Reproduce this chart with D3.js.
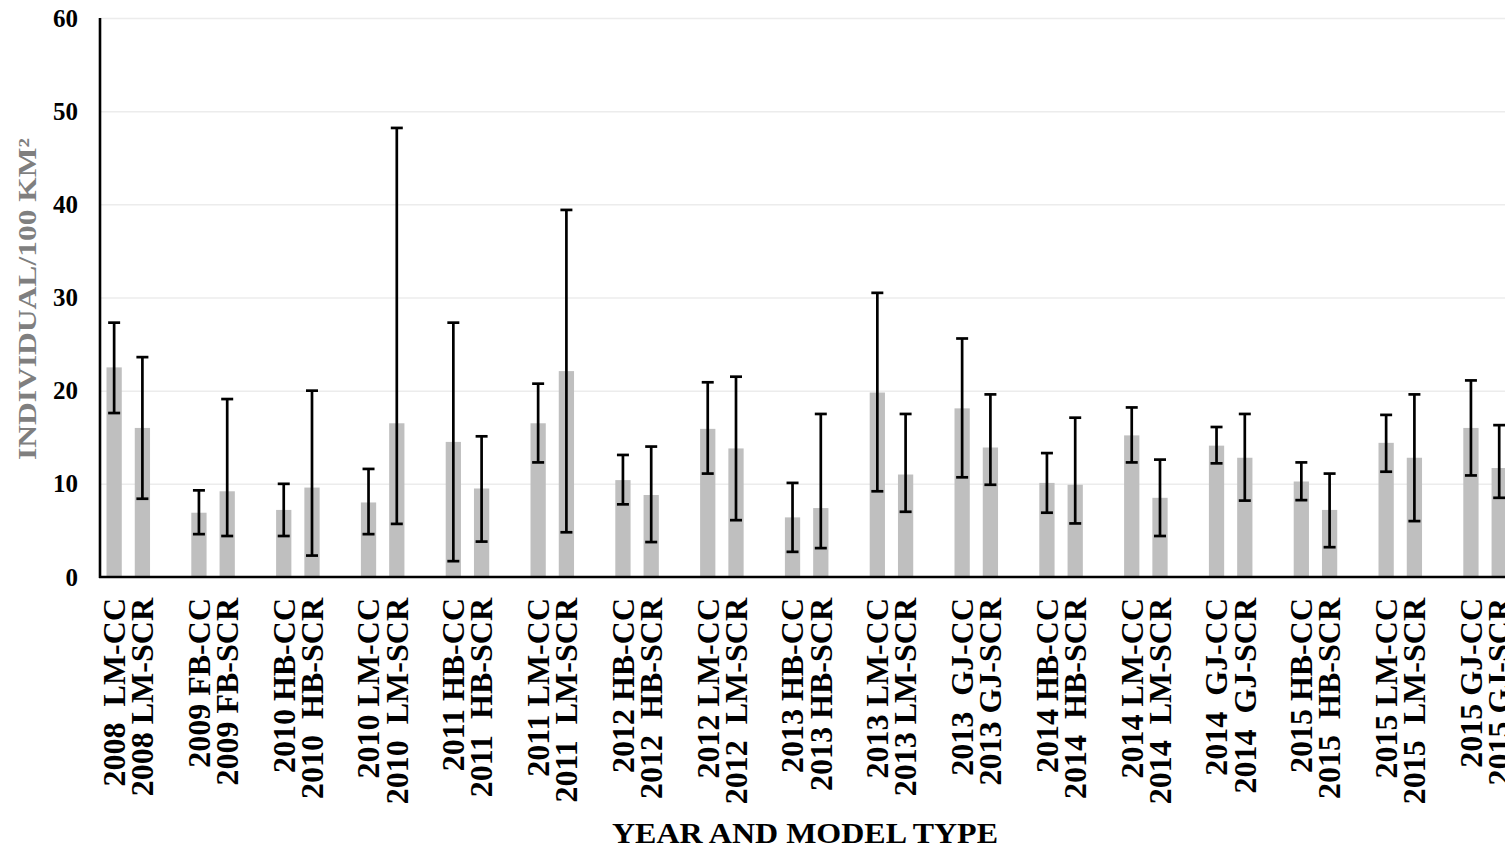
<!DOCTYPE html>
<html>
<head>
<meta charset="utf-8">
<script src="https://cdn.jsdelivr.net/npm/d3@7"></script>
<style>
    body { margin: 0; background: #fff; }
    text { font-family: "Times New Roman", "Liberation Serif", serif; font-weight: bold; }
    .x-label { white-space: pre; }
</style>
</head>
<body>
<svg width="1505" height="852"></svg>
<script>
const width = 1505;
const height = 852;

// groups along the x axis (year + area)
const groups = ['2008 LM', '2009 FB', '2010 HB', '2010 LM', '2011 HB', '2011 LM', '2012 HB', '2012 LM',
    '2013 HB', '2013 LM', '2013 GJ', '2014 HB', '2014 LM', '2014 GJ', '2015 HB', '2015 LM', '2015 GJ'];

const ccLabels = ['2008  LM-CC', '2009 FB-CC', '2010 HB-CC', '2010 LM-CC', '2011 HB-CC', '2011 LM-CC',
    '2012 HB-CC', '2012 LM-CC', '2013 HB-CC', '2013 LM-CC', '2013  GJ-CC', '2014 HB-CC', '2014 LM-CC',
    '2014  GJ-CC', '2015 HB-CC', '2015 LM-CC', '2015 GJ-CC'];
const scrLabels = ['2008 LM-SCR', '2009 FB-SCR', '2010  HB-SCR', '2010  LM-SCR', '2011  HB-SCR', '2011  LM-SCR',
    '2012  HB-SCR', '2012  LM-SCR', '2013 HB-SCR', '2013 LM-SCR', '2013 GJ-SCR', '2014  HB-SCR', '2014  LM-SCR',
    '2014  GJ-SCR', '2015  HB-SCR', '2015  LM-SCR', '2015 GJ-SCR'];

const ccMean = [22.5, 6.9, 7.2, 8.0, 14.5, 16.5, 10.4, 15.9, 6.4, 19.8, 18.1, 10.1, 15.2, 14.1, 10.25, 14.4, 16.0];
const ccLow  = [17.6, 4.6, 4.4, 4.6, 1.7, 12.3, 7.8, 11.1, 2.7, 9.2, 10.7, 6.9, 12.3, 12.2, 8.25, 11.3, 10.9];
const ccHigh = [27.3, 9.3, 10.0, 11.6, 27.3, 20.75, 13.1, 20.9, 10.1, 30.5, 25.6, 13.3, 18.2, 16.1, 12.3, 17.4, 21.1];

const scrMean = [16.0, 9.2, 9.6, 16.5, 9.5, 22.1, 8.8, 13.8, 7.4, 11.0, 13.9, 9.9, 8.5, 12.8, 7.2, 12.8, 11.7];
const scrLow  = [8.4, 4.4, 2.3, 5.7, 3.8, 4.8, 3.75, 6.1, 3.1, 7.0, 9.9, 5.75, 4.4, 8.2, 3.2, 6.0, 8.5];
const scrHigh = [23.6, 19.1, 20.0, 48.2, 15.1, 39.4, 14.0, 21.5, 17.5, 17.5, 19.6, 17.1, 12.6, 17.5, 11.1, 19.6, 16.3];

const yTicks = [0, 10, 20, 30, 40, 50, 60];

const svg = d3.select('svg');

const render = () => {
    const margin = { top: 18, left: 100, bottom: 275 };
    const step = 84.8;

    // flatten into one row per bar
    const data = [];
    groups.forEach((g, i) => {
        data.push({ group: g, model: 'CC', label: ccLabels[i], mean: ccMean[i], low: ccLow[i], high: ccHigh[i] });
        data.push({ group: g, model: 'SCR', label: scrLabels[i], mean: scrMean[i], low: scrLow[i], high: scrHigh[i] });
    });

    const yScale = d3.scaleLinear()
        .domain([0, 60])
        .range([height - margin.bottom, margin.top]);

    // the chart runs past the right edge of the page, as in the original
    const xScale = d3.scaleBand()
        .domain(groups)
        .range([margin.left, margin.left + step * groups.length]);

    // third slot stays empty
    const xInner = d3.scaleBand()
        .domain(['CC', 'SCR', 'none'])
        .range([0, xScale.bandwidth()])
        .paddingInner(0.46)
        .paddingOuter(0.23);

    const barX = d => xScale(d.group) + xInner(d.model);
    const barMid = d => barX(d) + xInner.bandwidth() / 2;

    // gridlines
    const yAxis = d3.axisLeft(yScale)
        .tickValues(yTicks)
        .tickSize(-(width - margin.left))
        .tickPadding(22)
        .tickFormat(d3.format('d'));

    const yAxisG = svg.append('g')
        .attr('transform', 'translate(' + margin.left + ', 0)')
        .call(yAxis);
    yAxisG.select('.domain').remove();
    yAxisG.selectAll('.tick line')
        .attr('stroke', '#ececec')
        .attr('stroke-width', 1.5)
        .filter(d => d === 0).remove();
    yAxisG.selectAll('.tick text')
        .attr('font-size', 25)
        .attr('fill', '#000');

    // bars
    svg.append('g').selectAll('rect')
        .data(data)
        .enter()
        .append('rect')
        .attr('x', barX)
        .attr('y', d => yScale(d.mean))
        .attr('width', xInner.bandwidth())
        .attr('height', d => yScale(0) - yScale(d.mean))
        .attr('fill', '#bfbfbf');

    // error bars
    const errG = svg.append('g')
        .attr('stroke', '#000')
        .attr('stroke-width', 2.7);
    const capW = 6;
    const err = errG.selectAll('g')
        .data(data)
        .enter()
        .append('g');
    err.append('line')
        .attr('x1', barMid).attr('x2', barMid)
        .attr('y1', d => yScale(d.low)).attr('y2', d => yScale(d.high));
    err.append('line')
        .attr('x1', d => barMid(d) - capW).attr('x2', d => barMid(d) + capW)
        .attr('y1', d => yScale(d.high)).attr('y2', d => yScale(d.high));
    err.append('line')
        .attr('x1', d => barMid(d) - capW).attr('x2', d => barMid(d) + capW)
        .attr('y1', d => yScale(d.low)).attr('y2', d => yScale(d.low));

    // axis lines
    svg.append('line')
        .attr('x1', margin.left).attr('x2', margin.left)
        .attr('y1', yScale(60)).attr('y2', yScale(0) + 1)
        .attr('stroke', '#000').attr('stroke-width', 2.6);
    svg.append('line')
        .attr('x1', margin.left - 1).attr('x2', width)
        .attr('y1', yScale(0)).attr('y2', yScale(0))
        .attr('stroke', '#000').attr('stroke-width', 2.6);

    // bar labels, rotated
    svg.append('g').selectAll('text')
        .data(data)
        .enter()
        .append('text')
        .attr('class', 'x-label')
        .attr('transform', d => 'translate(' + barMid(d) + ', ' + (yScale(0) + 21) + ') rotate(-90)')
        .attr('text-anchor', 'end')
        .attr('dy', '0.34em')
        .attr('font-size', 32)
        .attr('fill', '#000')
        .text(d => d.label);

    // axis titles
    svg.append('text')
        .text('YEAR AND MODEL TYPE')
        .attr('x', 805)
        .attr('y', 843)
        .attr('text-anchor', 'middle')
        .attr('font-size', 29)
        .attr('textLength', 386)
        .attr('lengthAdjust', 'spacingAndGlyphs')
        .attr('fill', '#000');

    svg.append('text')
        .text('INDIVIDUAL/100 KM\u00b2')
        .attr('transform', 'translate(36, 299) rotate(-90)')
        .attr('text-anchor', 'middle')
        .attr('font-size', 25)
        .attr('textLength', 322)
        .attr('lengthAdjust', 'spacingAndGlyphs')
        .attr('fill', '#7f7f7f');
};

render();
</script>
</body>
</html>
